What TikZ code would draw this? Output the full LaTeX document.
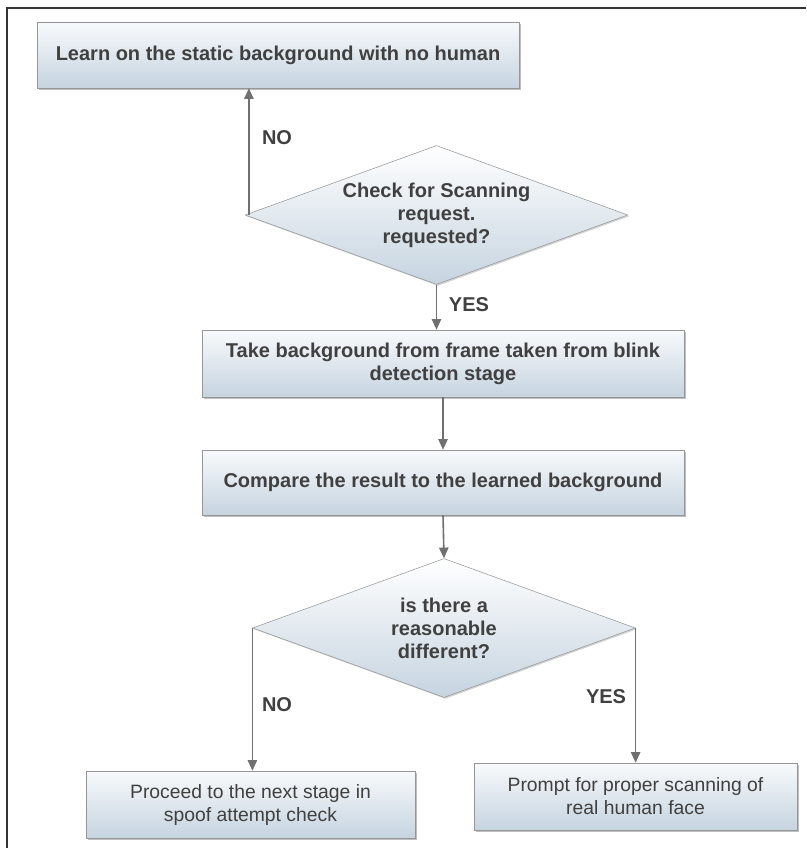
\documentclass[tikz,border=0pt]{standalone}
\usepackage{fontspec}
\setmainfont{Liberation Sans}
\usetikzlibrary{shapes.geometric,arrows.meta,shadows}
\definecolor{boxtop}{RGB}{248,250,252}
\definecolor{boxbot}{RGB}{198,212,224}
\definecolor{txtgray}{RGB}{64,64,64}
\definecolor{rimgray}{RGB}{150,150,150}
\definecolor{arrgray}{RGB}{112,112,112}

\begin{document}
\begin{tikzpicture}[x=0.75pt,y=-0.75pt,
   stage/.style={rectangle,draw=rimgray,top color=boxtop,bottom color=boxbot,
      drop shadow={shadow xshift=1.5pt,shadow yshift=-1.5pt,fill=black!50},
      text=txtgray,font=\bfseries\fontsize{15}{17.25}\selectfont,
      align=center,inner sep=0pt},
   test/.style={diamond,draw=rimgray,top color=white,bottom color=boxbot,
      drop shadow={shadow xshift=1pt,shadow yshift=-1pt,fill=black!35},
      shape aspect=2.76,inner sep=0pt,minimum width=287pt,minimum height=104.25pt,
      text=txtgray,font=\bfseries\fontsize{15}{17.25}\selectfont,align=center},
   flow/.style={draw=arrgray,line width=1.2pt,-{Triangle[width=7pt,length=8pt]}},
   answer/.style={text=txtgray,font=\bfseries\fontsize{15}{17}\selectfont}]
\useasboundingbox (0,0) rectangle (806,848);
\draw[line width=1.5pt,black!80] (806,8) -- (7,8) -- (7,848);

\node[stage,minimum width=361.5pt,minimum height=49.5pt] (learn) at (278,55)
   {Learn on the static background with no human};
\node[test] (scan) at (436.5,215) {Check for Scanning\\request.\\requested?};
\node[stage,minimum width=361.5pt,minimum height=50.25pt] (take) at (443,363.5)
   {Take background from frame taken from blink\\detection stage};
\node[stage,minimum width=361.5pt,minimum height=48.75pt] (compare) at (443,482.5)
   {Compare the result to the learned background};
\node[test] (diff) at (444,628) {is there a\\reasonable\\different?};
\node[stage,minimum width=246.75pt,minimum height=50.25pt,
   font=\fontsize{14.5}{17.25}\selectfont] (proceed) at (250.5,804.5)
   {Proceed to the next stage in\\spoof attempt check};
\node[stage,minimum width=242.25pt,minimum height=50.25pt,
   font=\fontsize{14.5}{17.25}\selectfont] (prompt) at (635.5,796.5)
   {Prompt for proper scanning of\\real human face};

\draw[flow] ([xshift=3pt]scan.west) -- ([xshift=3pt]scan.west |- learn.south);
\node[answer] (no1) at (277,138) {NO};
\draw[flow] (scan.south) -- (scan.south |- take.north);
\node[answer] (yes1) at (469,305) {YES};
\draw[flow] (take.south) -- (compare.north);
\draw[flow] (compare.south) -- (diff.north);
\draw[flow] (diff.west) -- (diff.west |- proceed.north);
\node[answer] (no2) at (277,705) {NO};
\draw[flow] (diff.east) -- (diff.east |- prompt.north);
\node[answer] (yes2) at (606,697) {YES};
\end{tikzpicture}
\end{document}
